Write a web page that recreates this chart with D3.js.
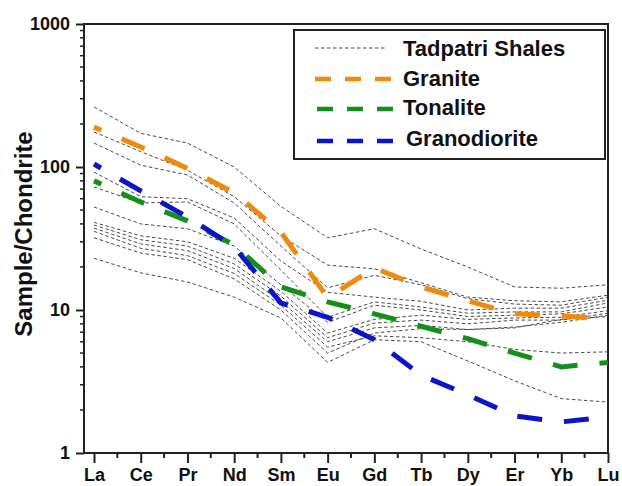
<!DOCTYPE html>
<html><head><meta charset="utf-8">
<script src="https://cdn.jsdelivr.net/npm/d3@7"></script>
<style>
html,body{margin:0;padding:0;background:#fff;}
text{font-family:"Liberation Sans",Arial,sans-serif;font-weight:bold;fill:#111;}
</style></head>
<body><svg id="c" width="622" height="486"></svg>
<script>
const elements = ["La","Ce","Pr","Nd","Sm","Eu","Gd","Tb","Dy","Er","Yb","Lu"];
const yTicks = [1,10,100,1000];

// Tadpatri Shales (sample/chondrite)
const shaleA = [263,172,147,100,53,32,37,26.7,20,14.5,14.2,15];
const shaleB = [176,128,95,62,33,20.6,19.4,15.5,12.3,11.6,11.4,12.7];
const shaleC = [147,103,88,56,28,14.3,17.5,15,12,11,10.8,12.3];
const shaleD = [92,62,60,44,22,13.3,12.3,11.5,10,10.3,10.3,11.7];
const shaleE = [72.5,56,57,40,19,8.9,11.4,10.5,9.5,9.7,9.7,11.2];
const shaleF = [52.5,40,37,28,15,8.2,10.8,10,9,9.2,9.4,10.5];
const shaleG = [41,33,30,23,13.5,6.9,8.6,9.2,8.6,8.8,8.9,9.9];
const shaleH = [39.3,31,28,21,12.5,6.4,8.1,8.5,8,8.5,8.5,9.5];
const shaleI = [37.4,29,26,19.5,11.5,6.0,7.5,7.8,7.3,7.6,8.2,9.2];
const shaleJ = [35.5,27,24,18,10.8,5.5,6.6,6.4,6.0,5.3,5.0,5.1];
const shaleK = [32,25,22.5,16.5,10,5.0,6.9,7.4,7.3,7.5,8.6,9.0];
const shaleL = [23,18.2,15.7,12.3,8.8,4.3,6.2,6.0,4.4,3.2,2.4,2.27];
const shales = [shaleA,shaleB,shaleC,shaleD,shaleE,shaleF,shaleG,shaleH,shaleI,shaleJ,shaleK,shaleL];

const granite      = [190,138,98,66,35,12.2,19.7,14.5,11.6,9.4,9.1,8.65];
const tonalite     = [80,57,42,28.5,14.5,11.4,9.4,7.7,6.3,5.0,4.0,4.3];
const granodiorite = [105,68,44.7,27.6,11.2,8.9,6.2,3.5,2.55,1.82,1.65,1.79];

const legendLabels = ["Tadpatri Shales","Granite","Tonalite","Granodiorite"];
const colors = {granite:"#f08a0a", tonalite:"#12901a", granodiorite:"#0a14c8", shale:"#4a4a4a"};

const svg = d3.select("#c");
const L=84, R=608, T=24, B=453;

const x = d3.scalePoint().domain(elements).range([94, R]);
const y = d3.scaleLog().domain([1,1000]).range([B, T]);

// frame
svg.append("path").attr("d",`M${L},${T}H${R}V${B}`).attr("fill","none").attr("stroke","#222").attr("stroke-width",2);

// bottom axis
const gx = svg.append("g").attr("transform",`translate(0,${B})`)
  .call(d3.axisBottom(x).tickSize(10).tickPadding(5).tickSizeOuter(0));
gx.select(".domain").remove();
gx.selectAll(".tick line").attr("stroke","#222").attr("stroke-width",2);
gx.selectAll(".tick text").attr("font-size",18).attr("fill","#111");
const step = x.step();
const minorX = elements.slice(0,-1).map(e=>x(e)+step/2);
gx.selectAll(".mx").data(minorX).enter().append("line")
  .attr("x1",d=>d).attr("x2",d=>d).attr("y1",0).attr("y2",5)
  .attr("stroke","#222").attr("stroke-width",2);
svg.append("line").attr("x1",L-1).attr("x2",R+1).attr("y1",B).attr("y2",B).attr("stroke","#222").attr("stroke-width",2);

// left axis
const gy = svg.append("g").attr("transform",`translate(${L},0)`)
  .call(d3.axisLeft(y).tickValues(yTicks).tickFormat(d3.format("d")).tickSize(8).tickPadding(6).tickSizeOuter(0));
gy.select(".domain").remove();
gy.selectAll(".tick line").attr("stroke","#222").attr("stroke-width",2);
gy.selectAll(".tick text").attr("font-size",18).attr("fill","#111");
const minorY = [];
[1,10,100].forEach(d=>{for(let k=2;k<=9;k++) minorY.push(d*k);});
gy.selectAll(".my").data(minorY).enter().append("line")
  .attr("x1",0).attr("x2",-4).attr("y1",d=>y(d)).attr("y2",d=>y(d))
  .attr("stroke","#222").attr("stroke-width",1.5);
svg.append("line").attr("x1",L).attr("x2",L).attr("y1",T-1).attr("y2",B+1).attr("stroke","#222").attr("stroke-width",2);

// y title
svg.append("text").attr("transform",`translate(32,234) rotate(-90)`)
  .attr("text-anchor","middle").attr("font-size",24).text("Sample/Chondrite");

const line = d3.line().x((d,i)=>x(elements[i])).y(d=>y(d));

svg.append("g").selectAll("path").data(shales).enter().append("path")
  .attr("d",line).attr("fill","none").attr("stroke",colors.shale)
  .attr("stroke-width",1).attr("stroke-dasharray","3.5,2.5");

[[granite,colors.granite],[tonalite,colors.tonalite],[granodiorite,colors.granodiorite]].forEach(([d,c])=>{
  svg.append("path").attr("d",line(d)).attr("fill","none").attr("stroke",c)
    .attr("stroke-width",5).attr("stroke-dasharray","25,22").attr("stroke-dashoffset",17);
});

// legend
const lg = svg.append("g");
lg.append("rect").attr("x",294).attr("y",30).attr("width",311).attr("height",129)
  .attr("fill","#fff").attr("stroke","#222").attr("stroke-width",2);
const legY = [48,79,109,141];
const legTxtY = [48,78,107,138];
const legCols = [colors.shale,colors.granite,colors.tonalite,colors.granodiorite];
legendLabels.forEach((lab,i)=>{
  const x0 = i<2?315:317;
  lg.append("line").attr("x1",x0).attr("x2",i===0?386:394).attr("y1",legY[i]).attr("y2",legY[i])
    .attr("stroke",legCols[i]).attr("stroke-width",i===0?1:4.5)
    .attr("stroke-dasharray",i===0?"3.5,2.5":"16,14");
  lg.append("text").attr("x",i===3?406:403).attr("y",legTxtY[i]).attr("dy","0.36em")
    .attr("font-size",22).text(lab);
});
</script></body></html>
